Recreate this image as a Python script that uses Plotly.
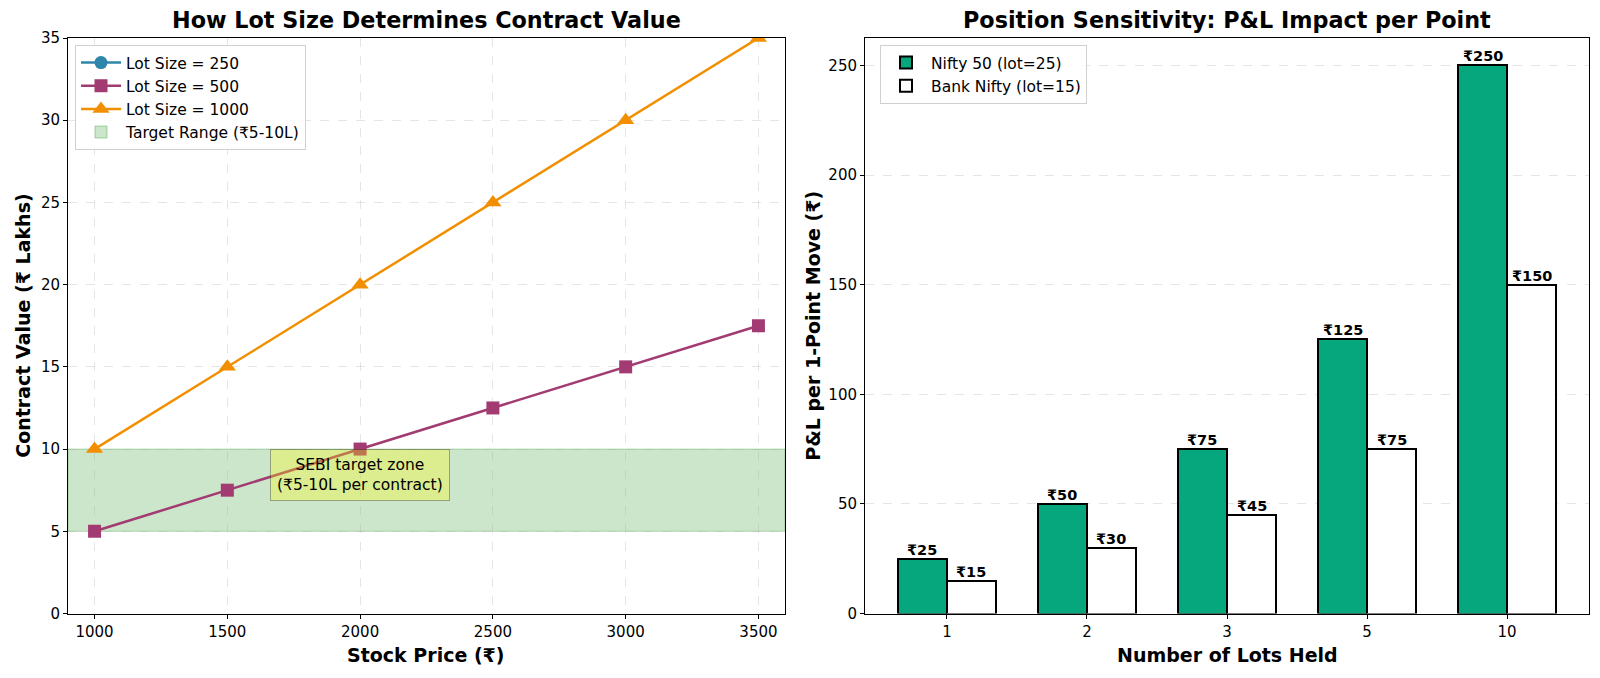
import plotly.graph_objects as go

# ---------------- data ----------------
stock_prices = [1000, 1500, 2000, 2500, 3000, 3500]
lot_250_values = [None, None, None, None, None, None]   # not drawn in the reference
lot_500_values = [5, 7.5, 10, 12.5, 15, 17.5]
lot_1000_values = [10, 15, 20, 25, 30, 35]
target_low = 5
target_high = 10

lot_labels = ["1", "2", "3", "5", "10"]
nifty_pl = [25, 50, 75, 125, 250]
banknifty_pl = [15, 30, 45, 75, 150]

# ---------------- layout helpers ----------------
W, H = 1600, 678
FONT = "DejaVu Sans"

def px_x(p):
    return p / W

def px_y(p):
    return 1 - p / H

L1, R1 = 68, 785
L2, R2 = 865, 1589
TOP, BOT = 38, 613.5
BAR_W = 0.35

fig = go.Figure()

# ---------- left chart ----------
fig.add_trace(go.Scatter(
    x=stock_prices, y=lot_250_values, name="Lot Size = 250",
    mode="lines+markers", line=dict(color="#2E86AB", width=2.5),
    marker=dict(symbol="circle", size=13, color="#2E86AB"),
    xaxis="x", yaxis="y", legend="legend"))
fig.add_trace(go.Scatter(
    x=stock_prices, y=lot_500_values, name="Lot Size = 500",
    mode="lines+markers", line=dict(color="#A23B72", width=2.5),
    marker=dict(symbol="square", size=13, color="#A23B72"),
    xaxis="x", yaxis="y", legend="legend"))
fig.add_trace(go.Scatter(
    x=stock_prices, y=lot_1000_values, name="Lot Size = 1000",
    mode="lines+markers", line=dict(color="#F18F01", width=2.5),
    marker=dict(symbol="triangle-up", size=15, color="#F18F01"),
    xaxis="x", yaxis="y", legend="legend"))
# legend entry for target range (patch-like icon)
fig.add_trace(go.Bar(
    x=[None], y=[None], name="Target Range (₹5-10L)",
    marker=dict(color="rgba(0,128,0,0.2)", line=dict(color="rgba(0,128,0,0.3)", width=1)),
    xaxis="x", yaxis="y", legend="legend"))

fig.add_shape(type="rect", xref="x domain", yref="y", x0=0, x1=1,
              y0=target_low, y1=target_high,
              fillcolor="rgba(0,128,0,0.2)",
              line=dict(color="rgba(0,128,0,0.25)", width=1), layer="below")

fig.add_annotation(x=2000, y=(target_low + target_high) / 2 + 0.95, xref="x", yref="y",
                   text="SEBI target zone<br>(₹5-10L per contract)",
                   showarrow=False, font=dict(family=FONT, size=15.5, color="black"),
                   bgcolor="rgba(255,255,0,0.3)", bordercolor="rgba(0,0,0,0.3)",
                   borderwidth=1, borderpad=6)

# ---------- right chart ----------
pos = list(range(len(lot_labels)))
fig.add_trace(go.Bar(
    x=pos, y=nifty_pl, name="Nifty 50 (lot=25)", width=BAR_W, offset=-BAR_W,
    marker=dict(color="#06A77D", line=dict(color="black", width=2)),
    xaxis="x2", yaxis="y2", legend="legend2"))
fig.add_trace(go.Bar(
    x=pos, y=banknifty_pl, name="Bank Nifty (lot=15)", width=BAR_W, offset=0,
    marker=dict(color="white", line=dict(color="black", width=2)),
    xaxis="x2", yaxis="y2", legend="legend2"))

for i, v in zip(pos, nifty_pl):
    fig.add_annotation(x=i - BAR_W / 2, y=v, xref="x2", yref="y2", text=f"<b>₹{v}</b>",
                       showarrow=False, yanchor="bottom", xanchor="center", borderpad=0,
                       font=dict(family=FONT, size=14.5, color="black"))
for i, v in zip(pos, banknifty_pl):
    fig.add_annotation(x=i + BAR_W / 2, y=v, xref="x2", yref="y2", text=f"<b>₹{v}</b>",
                       showarrow=False, yanchor="bottom", xanchor="center", borderpad=0,
                       font=dict(family=FONT, size=14.5, color="black"))

axis_common = dict(
    showline=True, linecolor="black", linewidth=1, mirror=True,
    ticks="outside", ticklen=4, tickcolor="black", tickwidth=1,
    tickfont=dict(family=FONT, size=15, color="black"),
    zeroline=False, automargin=False,
)
grid = dict(showgrid=True, gridcolor="rgba(170,170,170,0.3)", griddash="dash", gridwidth=1)

fig.update_layout(
    width=W, height=H, margin=dict(l=0, r=0, t=0, b=0, pad=0, autoexpand=False),
    paper_bgcolor="white", plot_bgcolor="white",
    barmode="overlay", bargap=0,
    font=dict(family=FONT, size=15, color="black"),
    xaxis=dict(domain=[px_x(L1), px_x(R1)], anchor="y", range=[900, 3600],
               tickvals=stock_prices, **axis_common, **grid),
    yaxis=dict(domain=[px_y(BOT), px_y(TOP)], anchor="x", range=[0, 35],
               dtick=5, **axis_common, **grid),
    xaxis2=dict(domain=[px_x(L2), px_x(R2)], anchor="y2", range=[-0.585, 4.585],
                tickvals=pos, ticktext=lot_labels, showgrid=False, **axis_common),
    yaxis2=dict(domain=[px_y(BOT), px_y(TOP)], anchor="x2", range=[0, 262.5],
                dtick=50, **axis_common, **grid),
    legend=dict(x=px_x(75), y=px_y(45), xanchor="left", yanchor="top",
                bgcolor="rgba(255,255,255,0.85)", bordercolor="#d0d0d0", borderwidth=1,
                font=dict(family=FONT, size=15.5, color="black"), itemwidth=40),
    legend2=dict(x=px_x(880), y=px_y(45), xanchor="left", yanchor="top",
                 bgcolor="rgba(255,255,255,0.85)", bordercolor="#d0d0d0", borderwidth=1,
                 font=dict(family=FONT, size=15.5, color="black"), itemwidth=40),
)

def ann(text, x, y, size, angle=0):
    fig.add_annotation(x=px_x(x), y=px_y(y), xref="paper", yref="paper",
                       text=text, showarrow=False, textangle=angle,
                       xanchor="center", yanchor="middle",
                       font=dict(family=FONT, size=size, color="black"))

ann("<b>How Lot Size Determines Contract Value</b>", (L1 + R1) / 2, 20, 22.3)
ann("<b>Position Sensitivity: P&L Impact per Point</b>", (L2 + R2) / 2, 20, 22.3)
ann("<b>Stock Price (₹)</b>", (L1 + R1) / 2, 655, 19)
ann("<b>Number of Lots Held</b>", (L2 + R2) / 2, 655, 19)
ann("<b>Contract Value (₹ Lakhs)</b>", 23, (TOP + BOT) / 2, 19, -90)
ann("<b>P&L per 1-Point Move (₹)</b>", 813, (TOP + BOT) / 2, 19, -90)

fig.write_html("out.html")
